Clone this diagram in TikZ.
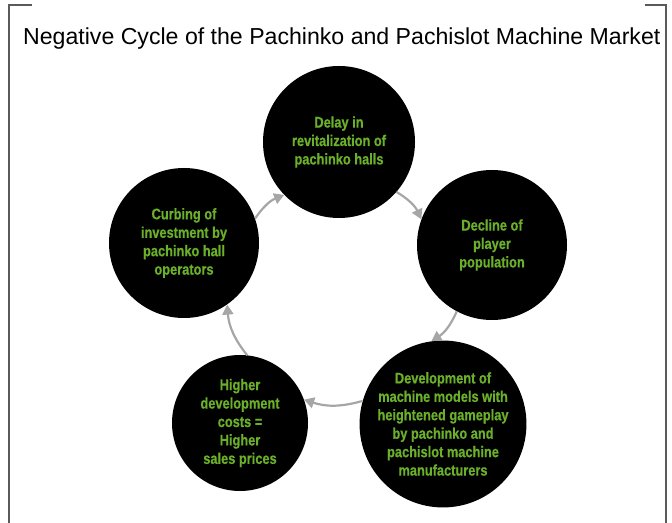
\documentclass[tikz,border=0pt]{standalone}
\usepackage{fontspec}
\setmainfont{Liberation Sans}
\newfontfamily\stagefont[FakeStretch=0.83,BoldFeatures={FakeBold=0.6}]{Liberation Sans}
\usetikzlibrary{arrows.meta}
\definecolor{StageTxt}{RGB}{106,176,42}
\definecolor{ArcClr}{RGB}{166,166,166}
\definecolor{FrameClr}{RGB}{90,90,90}

\begin{document}
\begin{tikzpicture}[x=1bp,y=1bp,
  stage/.style={circle,fill=black,inner sep=0pt,align=center,text=StageTxt,
    font=\stagefont\bfseries\fontsize{15.5}{18.5}\selectfont},
  cyc/.style={draw=ArcClr,line width=2.2bp,-{Triangle[length=10bp,width=11bp]},bend left=17}]
\useasboundingbox (0,0) rectangle (672,523);

% frame
\draw[FrameClr,line width=1.2bp] (32,518) -- (9,518) -- (9,0);
\draw[FrameClr,line width=1.2bp] (645,518) -- (666,518) -- (666,0);

\node[anchor=base west,inner sep=0pt,font=\fontsize{23.2}{27}\selectfont] (title) at (23,478)
  {Negative Cycle of the Pachinko and Pachislot Machine Market};

% the five stages
\node[stage,minimum size=152bp] (delay) at (339,381) {Delay in\\revitalization of\\pachinko halls};
\node[stage,minimum size=150bp] (decline) at (492,278) {Decline of\\player\\population};
\node[stage,minimum size=152bp] (develop) at (443,99) {Development of\\machine models with\\heightened gameplay\\by pachinko and\\pachislot machine\\manufacturers};
\node[stage,minimum size=136bp] (costs) at (240,100) {Higher\\development\\costs =\\Higher\\sales prices};
\node[stage,minimum size=150bp] (curb) at (184,280) {Curbing of\\investment by\\pachinko hall\\operators};

% cycle arrows
\draw[cyc] (delay.-41) to (decline.160);
\draw[cyc] (decline.-118) to (develop.98);
\draw[cyc] (develop.164) to (costs.20);
\draw[cyc] (costs.84) to (curb.-55);
\draw[cyc] (curb.19) to (delay.-136);
\end{tikzpicture}
\end{document}
